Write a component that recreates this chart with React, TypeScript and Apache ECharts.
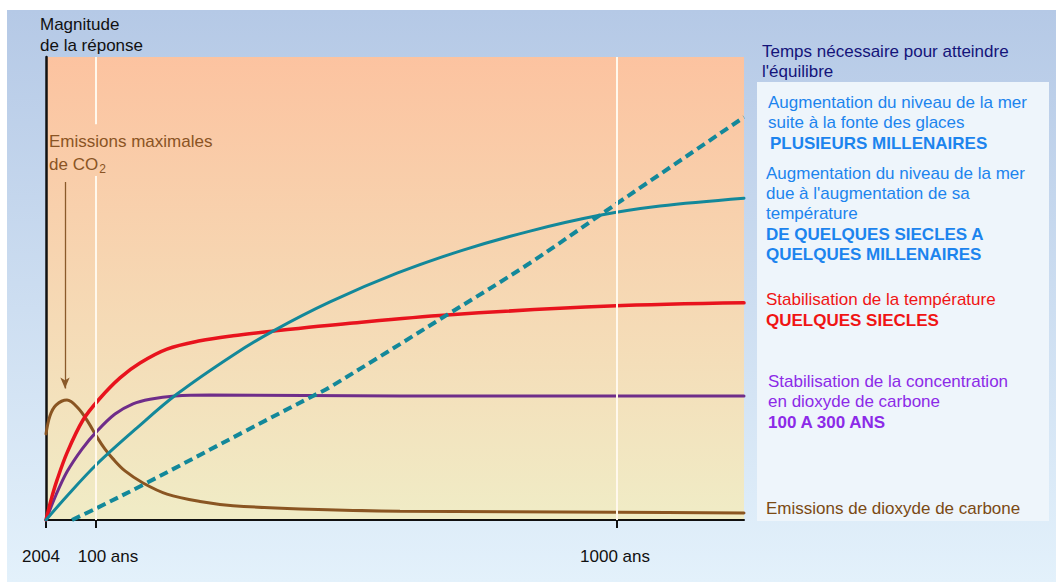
import React, { useEffect, useRef } from "react";
import * as echarts from "echarts";

// x: position along the (non-linear) time axis, 0 = 2004 ; y: magnitude of the response (0-100)
const xTickValues = [0, 50, 571];
const xTickLabels = ["2004", "100 ans", "1000 ans"];

const co2Emissions: [number, number][] = [
  [0, 18.6], [4, 22.5], [10, 24.8], [21, 25.9], [32, 24.2], [42, 21.2], [51, 17.9],
  [59, 15.3], [67, 13.2], [79, 10.6], [97, 8.0], [121, 5.6], [154, 4.0], [187, 3.1],
  [254, 2.4], [354, 1.9], [571, 1.7], [698, 1.5],
];
const co2Concentration: [number, number][] = [
  [0, 0], [10, 5.4], [21, 10.4], [36, 15.3], [51, 19.2], [69, 22.9], [87, 25.1],
  [104, 26.1], [129, 26.8], [164, 27.0], [354, 26.8], [698, 26.8],
];
const temperature: [number, number][] = [
  [0, 0], [5, 4.3], [11, 8.6], [21, 14.5], [37, 21.6], [54, 26.3], [74, 30.7],
  [94, 33.9], [121, 36.9], [154, 38.7], [187, 39.8], [227, 40.8], [304, 42.5],
  [401, 44.3], [564, 46.2], [698, 46.9],
];
const thermalExpansion: [number, number][] = [
  [0, 0], [21, 5.2], [51, 12.1], [91, 19.9], [131, 27.2], [187, 35.6], [227, 40.8],
  [284, 47.1], [351, 53.3], [417, 58.3], [484, 62.4], [551, 65.7], [614, 67.8], [698, 69.5],
];
const iceMelt: [number, number][] = [
  [26, 0], [51, 2.6], [97, 7.6], [201, 19.4], [267, 26.8], [284, 28.7], [401, 44.3],
  [484, 55.5], [557, 66.3], [698, 87.0],
];
// peak-emission annotation arrow (x, y from, y to)
const peakArrowX = 19;
const peakArrowFrom = 73;
const peakArrowTo = 28.4;

const axisTitle = ["Magnitude", "de la réponse"];
const panelTitle = ["Temps nécessaire pour atteindre", "l'équilibre"];
const legendBlocks = [
  { lines: ["Augmentation du niveau de la mer", "suite à la fonte des glaces"], bold: ["PLUSIEURS MILLENAIRES"], color: "#1c84ee" },
  { lines: ["Augmentation du niveau de la mer", "due à l'augmentation de sa", "température"], bold: ["DE QUELQUES SIECLES A", "QUELQUES MILLENAIRES"], color: "#1c84ee" },
  { lines: ["Stabilisation de la température"], bold: ["QUELQUES SIECLES"], color: "#f01414" },
  { lines: ["Stabilisation de la concentration", "en dioxyde de carbone"], bold: ["100 A 300 ANS"], color: "#8c2ae8" },
  { lines: ["Emissions de dioxyde de carbone"], bold: [], color: "#7b4a14" },
];

const FONT = "'Liberation Sans', Arial, sans-serif";
const FS = 17;

export default function App() {
  const ref = useRef<HTMLDivElement>(null);
  useEffect(() => {
    if (!ref.current) return;
    const chart = echarts.init(ref.current, null, { renderer: "svg" });

    const blockX = [768, 766, 766, 768, 766];
    const blockY = [102.7, 173, 299, 381, 508];
    const legendTexts: any[] = [];
    legendBlocks.forEach((b, i) => {
      let y = blockY[i];
      b.lines.forEach((t, j) => {
        if (j > 0) y += 20;
        legendTexts.push({
          type: "text", x: blockX[i], y, z: 100,
          style: { text: t, fill: b.color, fontSize: FS, fontFamily: FONT, verticalAlign: "middle" },
        });
      });
      b.bold.forEach((t, j) => {
        y += j === 0 ? 21 : 20;
        legendTexts.push({
          type: "text", x: blockX[i] + (i === 0 ? 2 : 0), y, z: 100,
          style: { text: t, fill: b.color, fontSize: FS, fontWeight: "bold", fontFamily: FONT, verticalAlign: "middle" },
        });
      });
    });

    const lineSeries = (name: string, data: [number, number][], color: string, width: number, extra: any = {}) => ({
      name, type: "line", data, smooth: 0.35, symbol: "none", silent: true,
      lineStyle: { color, width, cap: "round", ...(extra.lineStyle || {}) },
      z: extra.z ?? 3,
      ...(extra.markLine ? { markLine: extra.markLine } : {}),
    });

    const labelRich = (pad: number[]) => ({ fontSize: FS, fontFamily: FONT, color: "#111", padding: pad });

    chart.setOption({
      animation: false,
      grid: {
        left: 46, top: 57, width: 698, height: 463, show: true, borderWidth: 0,
        backgroundColor: new echarts.graphic.LinearGradient(0, 0, 0, 1, [
          { offset: 0, color: "#fcc3a0" },
          { offset: 1, color: "#f0ecc6" },
        ]),
      },
      xAxis: {
        type: "value", min: 0, max: 698,
        axisLine: { show: true, lineStyle: { color: "#111", width: 2 } },
        axisTick: { show: true, customValues: xTickValues, length: 8, lineStyle: { color: "#111", width: 2 } },
        axisLabel: {
          show: true, customValues: xTickValues, margin: 28,
          formatter: (v: number) => {
            const i = xTickValues.indexOf(v);
            return i < 0 ? "" : `{l${i}|${xTickLabels[i]}}`;
          },
          rich: {
            l0: labelRich([0, 10, 0, 0]),
            l1: labelRich([0, 0, 0, 24]),
            l2: labelRich([0, 4, 0, 0]),
          },
        },
        splitLine: { show: false },
      },
      yAxis: {
        type: "value", min: 0, max: 100,
        axisLine: { show: true, lineStyle: { color: "#111", width: 2.5 } },
        axisTick: { show: false }, axisLabel: { show: false }, splitLine: { show: false },
      },
      series: [
        {
          name: "grid", type: "line", data: [], z: 1, silent: true,
          markLine: {
            silent: true, symbol: ["none", "none"], label: { show: false },
            lineStyle: { color: "#fff8ec", width: 2, type: "solid" },
            emphasis: { disabled: true },
            data: [
              [{ coord: [xTickValues[1], 100] }, { coord: [xTickValues[1], 85.5] }],
              [{ coord: [xTickValues[1], 74.3] }, { coord: [xTickValues[1], 0] }],
              [{ coord: [xTickValues[2], 100] }, { coord: [xTickValues[2], 0] }],
            ],
          },
        },
        lineSeries("Emissions de dioxyde de carbone", co2Emissions, "#8a5522", 3, {
          markLine: {
            silent: true, symbol: ["none", "arrow"], symbolSize: [7, 11], label: { show: false },
            lineStyle: { color: "#8a5a2a", width: 1.3, type: "solid" },
            emphasis: { disabled: true },
            data: [[{ coord: [peakArrowX, peakArrowFrom] }, { coord: [peakArrowX, peakArrowTo] }]],
          },
        }),
        lineSeries("Stabilisation de la concentration", co2Concentration, "#6f2d8a", 3),
        lineSeries("Stabilisation de la température", temperature, "#e8131d", 3.5),
        lineSeries("Niveau de la mer (température)", thermalExpansion, "#13889a", 3),
        lineSeries("Niveau de la mer (glaces)", iceMelt, "#13889a", 4, { lineStyle: { type: [9, 5], cap: "butt" } }),
      ],
      graphic: [
        {
          type: "rect", z: -10, shape: { x: 7, y: 10, width: 1049, height: 572 },
          style: {
            fill: new echarts.graphic.LinearGradient(0, 0, 0, 1, [
              { offset: 0, color: "#b5c9e6" },
              { offset: 1, color: "#e3f1fb" },
            ]),
          },
        },
        {
          type: "rect", z: -5, shape: { x: 757, y: 82, width: 292, height: 439 },
          style: { fill: "#eef5fb" },
        },
        ...axisTitle.map((t, i) => ({
          type: "text", x: 40, y: 24 + i * 21, z: 100,
          style: { text: t, fill: "#111", fontSize: FS, fontFamily: FONT, verticalAlign: "middle" },
        })),
        ...panelTitle.map((t, i) => ({
          type: "text", x: 762, y: 51.7 + i * 20, z: 100,
          style: { text: t, fill: "#14147a", fontSize: FS, fontFamily: FONT, verticalAlign: "middle" },
        })),
        {
          type: "text", x: 49, y: 141, z: 100,
          style: { text: "Emissions maximales", fill: "#8a5424", fontSize: FS, fontFamily: FONT, verticalAlign: "middle" },
        },
        {
          type: "text", x: 49, y: 164, z: 100,
          style: {
            text: "{a|de CO}{s|2}", fill: "#8a5424", fontFamily: FONT, verticalAlign: "middle",
            rich: {
              a: { fontSize: FS, fontFamily: FONT, fill: "#8a5424", lineHeight: 22, verticalAlign: "middle" },
              s: { fontSize: 12, fontFamily: FONT, fill: "#8a5424", lineHeight: 22, verticalAlign: "bottom", padding: [0, 0, 0, 1] },
            },
          },
        },
        ...legendTexts,
      ],
    });
    return () => chart.dispose();
  }, []);
  return (
    <div style={{ position: "fixed", left: 0, top: 0, width: 1056, height: 585, background: "#fff" }}>
      <div ref={ref} style={{ width: 1056, height: 585 }} />
    </div>
  );
}
